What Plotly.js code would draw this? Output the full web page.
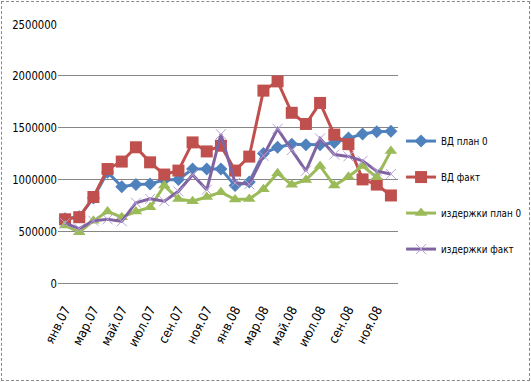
<!DOCTYPE html>
<html>
<head>
<meta charset="utf-8">
<script src="https://cdn.plot.ly/plotly-3.0.1.min.js"></script>
<style>
html,body{margin:0;padding:0;background:#fff;}
#wrap{position:relative;width:531px;height:382px;}
#chart{width:531px;height:382px;}
#frame{position:absolute;left:1px;top:1px;width:527px;height:378px;border:1px dashed #8a8a8a;pointer-events:none;}
</style>
</head>
<body>
<div id="wrap"><div id="chart"></div><div id="frame"></div></div>
<script>
const months = ['янв.07','фев.07','мар.07','апр.07','май.07','июн.07','июл.07','авг.07','сен.07','окт.07','ноя.07','дек.07',
                'янв.08','фев.08','мар.08','апр.08','май.08','июн.08','июл.08','авг.08','сен.08','окт.08','ноя.08','дек.08'];
const tickLabels = ['янв.07','мар.07','май.07','июл.07','сен.07','ноя.07','янв.08','мар.08','май.08','июл.08','сен.08','ноя.08'];

const vdPlan = [620000,640000,820000,1070000,930000,950000,955000,995000,1000000,1100000,1100000,1100000,
                940000,975000,1250000,1310000,1340000,1335000,1335000,1355000,1400000,1438000,1460000,1465000];
const vdFact = [615000,635000,830000,1100000,1172000,1310000,1165000,1047000,1085000,1357000,1270000,1325000,
                1085000,1220000,1857000,1946000,1643000,1535000,1738000,1432000,1340000,1000000,950000,845000];
const costPlan = [555000,490000,600000,690000,635000,690000,730000,940000,810000,790000,830000,877000,
                  805000,810000,905000,1060000,948000,995000,1130000,940000,1025000,1130000,1020000,1275000];
const costFact = [578000,525000,600000,615000,595000,775000,812000,790000,885000,1045000,900000,1437000,
                  967000,953000,1228000,1488000,1283000,1083000,1395000,1240000,1222000,1180000,1080000,1052000];

const names = ['ВД план 0','ВД факт','издержки план 0','издержки факт'];
const colors = ['#4F81BD','#C0504D','#9BBB59','#8064A2'];
const series = [vdPlan, vdFact, costPlan, costFact];
const symbols = ['diamond','square','triangle-up','x-thin'];
const sizes = [10,12,11,10];

const traces = series.map((ys,i)=>({
  type:'scatter', mode:'lines+markers', x:months, y:ys, name:names[i],
  legendgroup:'g'+i,
  line:{color:colors[i], width:3},
  marker:{symbol:symbols[i], size:sizes[i], color:colors[i],
          line:{color: i===3 ? '#B9A3D8' : colors[i], width: i===3 ? 1 : 0}}
}));

const font = '"DejaVu Sans Condensed","Liberation Sans Narrow",sans-serif';

const layout = {
  width:531, height:382,
  margin:{l:57.5, r:133, t:23.5, b:98.5, autoexpand:false},
  paper_bgcolor:'#fff', plot_bgcolor:'#fff',
  showlegend:true,
  font:{family:font, size:13, color:'#000'},
  xaxis:{type:'category', categoryorder:'array', categoryarray:months,
         range:[-0.5,23.5], tickvals:tickLabels, ticktext:tickLabels,
         tickangle:-63, ticks:'outside', ticklen:13, tickcolor:'rgba(0,0,0,0)',
         showgrid:false, zeroline:false, showline:true, linecolor:'#868686', linewidth:1,
         tickfont:{family:font, size:13, color:'#000'}, fixedrange:true, automargin:false},
  yaxis:{range:[0,2500000], tickvals:[0,500000,1000000,1500000,2000000,2500000],
         ticktext:['0','500000','1000000','1500000','2000000','2500000'],
         showgrid:true, gridcolor:'#868686', gridwidth:1, zeroline:false, showline:false,
         ticks:'', tickfont:{family:font, size:13, color:'#000'}, fixedrange:true, automargin:false},
  legend:{x:1.009, xanchor:'left', y:0.604, yanchor:'top', traceorder:'grouped',
          tracegroupgap:17, font:{family:font, size:10.5, color:'#000'}, bgcolor:'rgba(0,0,0,0)'}
};

function squeeze(sel, f){
  document.querySelectorAll(sel).forEach(t=>{
    const L = t.getComputedTextLength();
    if (L > 0) { t.setAttribute('textLength', (L*f).toFixed(1)); t.setAttribute('lengthAdjust','spacingAndGlyphs'); }
  });
}

Plotly.newPlot('chart', traces, layout, {displayModeBar:false, staticPlot:true}).then(()=>{
  squeeze('.legendtext', 0.93);
  squeeze('.ytick text', 0.86);
  document.querySelectorAll('.legend [clip-path], .legend .scrollbox').forEach(el=>el.removeAttribute('clip-path'));
});
</script>
</body>
</html>
